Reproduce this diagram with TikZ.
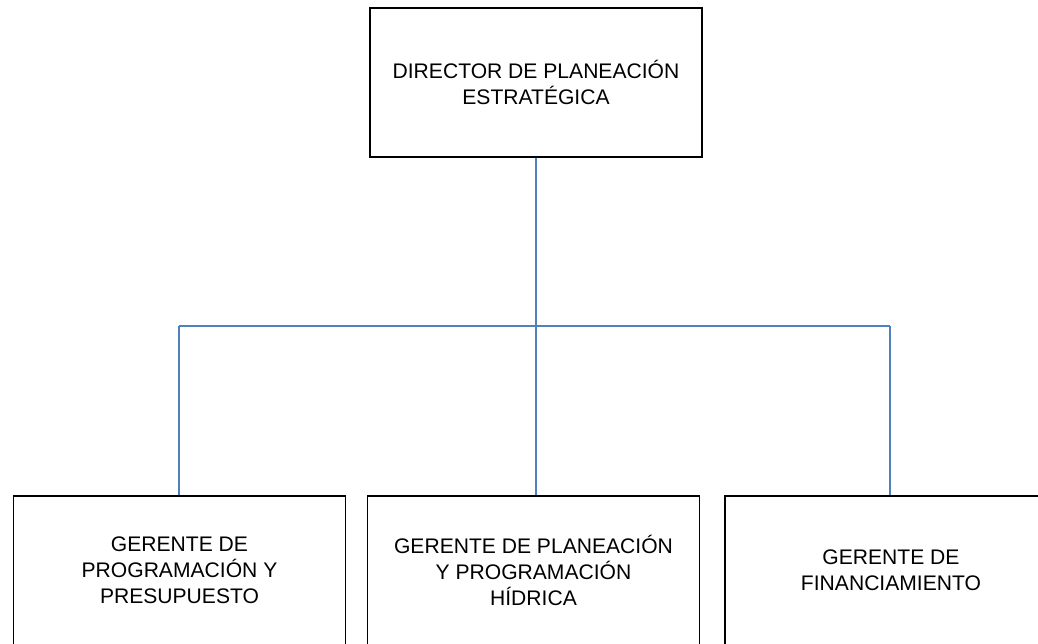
\documentclass[tikz,border=0pt]{standalone}
\usepackage{fontspec}
\setmainfont{Liberation Sans}
\usepackage{tikz}
\definecolor{linkline}{RGB}{79, 129, 189}
\definecolor{boxline}{RGB}{0, 0, 0}

\begin{document}
\begin{tikzpicture}[
		puesto/.style={draw=boxline, line width=1.1pt, rectangle, minimum width=6.64cm, minimum height=2.98cm, align=center, font=\fontsize{12}{14.7}\selectfont, inner sep=0pt},
		enlace/.style={draw=linkline, line width=0.85pt}
	]
			\clip (0, 0) rectangle (20.76, -12.86);
			% director
			\node[puesto] (director) at (10.72, -1.65) {DIRECTOR DE PLANEACIÓN\\ESTRATÉGICA};
			% gerentes
			\node[puesto] (presupuesto) at (3.59, -11.41) {GERENTE DE\\PROGRAMACIÓN Y\\PRESUPUESTO};
			\node[puesto] (hidrica) at (10.67, -11.41) {GERENTE DE PLANEACIÓN\\Y PROGRAMACIÓN\\HÍDRICA};
			\node[puesto] (financiamiento) at (17.82, -11.41) {GERENTE DE\\FINANCIAMIENTO};
			% conexiones
			\coordinate (bus) at (10.72, -6.52);
			\coordinate (busizq) at (3.58, -6.52);
			\coordinate (busder) at (17.80, -6.52);
			\draw[enlace] (director.south) -- (bus);
			\draw[enlace] (busizq) -- (busder);
			\draw[enlace] (busizq) -- (busizq |- presupuesto.north);
			\draw[enlace] (bus) -- (bus |- hidrica.north);
			\draw[enlace] (busder) -- (busder |- financiamiento.north);
		\end{tikzpicture}
\end{document}
